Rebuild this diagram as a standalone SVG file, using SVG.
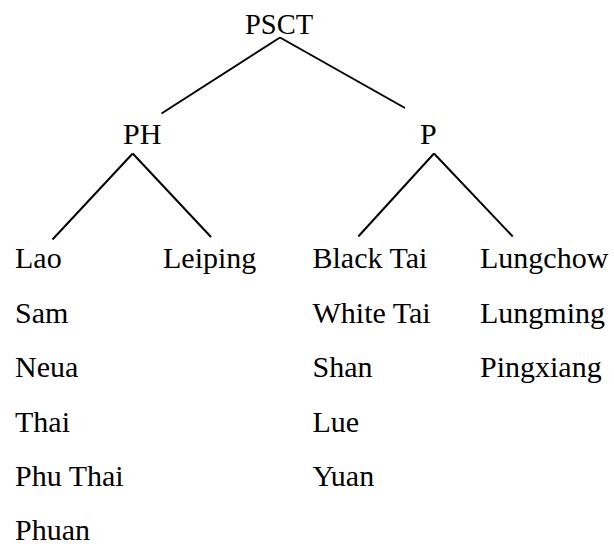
<svg xmlns="http://www.w3.org/2000/svg" width="614" height="544" viewBox="0 0 614 544">
<style>
text{font-family:"Liberation Serif","Times New Roman",serif;font-size:30px;fill:#000}
.c line{stroke:#000;stroke-width:2;stroke-linecap:butt}
</style>
<rect width="614" height="544" fill="#fff"/>
<g class="c" id="connectors">
<line x1="280" y1="37.5" x2="161.5" y2="113.5"/>
<line x1="280" y1="37.5" x2="405" y2="108"/>
<line x1="132.7" y1="153.5" x2="52.5" y2="239.5"/>
<line x1="132.7" y1="153.5" x2="211" y2="237"/>
<line x1="434" y1="153.5" x2="358.3" y2="236.5"/>
<line x1="434" y1="153.5" x2="512.7" y2="236.5"/>
</g>
<g id="n-psct"><text x="245" y="33.5" style="font-size:28.5px">PSCT</text></g>
<g id="n-ph"><text x="123" y="144">PH</text></g>
<g id="n-p"><text x="420" y="144">P</text></g>
<g id="n-lao">
<text x="15" y="268">Lao</text>
<text x="15" y="322.5">Sam</text>
<text x="15" y="377">Neua</text>
<text x="15" y="431.5">Thai</text>
<text x="15" y="486">Phu Thai</text>
<text x="15" y="540">Phuan</text>
</g>
<g id="n-leiping"><text x="163" y="268">Leiping</text></g>
<g id="n-blacktai">
<text x="312.5" y="268">Black Tai</text>
<text x="312.5" y="322.5">White Tai</text>
<text x="312.5" y="377">Shan</text>
<text x="312.5" y="431.5">Lue</text>
<text x="312.5" y="486">Yuan</text>
</g>
<g id="n-lungchow">
<text x="480" y="268">Lungchow</text>
<text x="480" y="322.5">Lungming</text>
<text x="480" y="377">Pingxiang</text>
</g>
</svg>
